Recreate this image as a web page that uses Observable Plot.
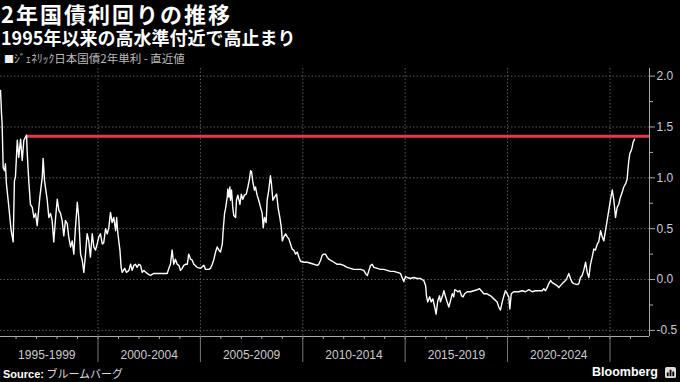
<!DOCTYPE html>
<html><head><meta charset="utf-8">
<script src="https://cdn.jsdelivr.net/npm/d3@7"></script>
<script src="https://cdn.jsdelivr.net/npm/@observablehq/plot@0.6"></script>
<style>
html,body{margin:0;padding:0;background:#000;}
#wrap{position:relative;width:680px;height:382px;overflow:hidden;background:#000;color:#fff;font-family:"Noto Sans CJK JP","Noto Sans",sans-serif;}
#title{position:absolute;left:1px;top:1px;font-size:22px;font-weight:700;line-height:24px;letter-spacing:2px;white-space:nowrap;}
#subtitle{position:absolute;left:1px;top:26px;font-size:18px;font-weight:700;line-height:22px;white-space:nowrap;}
#legend{position:absolute;left:4px;top:51px;font-size:11.5px;color:#bbb;line-height:14px;white-space:nowrap;}
#legend .sw{color:#eee;font-size:10px;}
#chart{position:absolute;left:0;top:60px;}
#source{position:absolute;left:3px;top:366px;font-size:11px;line-height:15px;color:#ddd;white-space:nowrap;}
#source b{font-family:"Liberation Sans",Arial,sans-serif;color:#fff;}
#brand{position:absolute;right:22px;top:365px;font-family:"Liberation Sans",Arial,sans-serif;font-weight:700;font-size:12.5px;line-height:15px;color:#fff;white-space:nowrap;}
#icon{position:absolute;left:665px;top:367px;}
</style></head>
<body>
<div id="wrap">
  <div id="title">2年国債利回りの推移</div>
  <div id="subtitle">1995年以来の高水準付近で高止まり</div>
  <div id="legend"><span class="sw">■</span>ｼﾞｪﾈﾘｯｸ日本国債2年単利 - 直近値</div>
  <div id="chart"></div>
  <div id="source"><b>Source:</b> ブルームバーグ</div>
  <div id="brand">Bloomberg</div>
  <svg id="icon" width="11" height="11" viewBox="0 0 12 12"><rect x="0" y="0" width="12" height="12" rx="2" fill="#ddd"/><rect x="2" y="6" width="2" height="4" fill="#000"/><rect x="5" y="3" width="2" height="7" fill="#000"/><rect x="8" y="5" width="2" height="5" fill="#000"/></svg>
</div>
<script>
// Decimal years and 2-year JGB yields (%)
const years = [
1995.24,1995.29,1995.32,1995.37,1995.44,1995.48,1995.53,1995.65,1995.76,1995.86,1995.92,1995.97,
1996.06,1996.13,1996.22,1996.30,1996.38,1996.51,1996.55,1996.62,1996.70,1996.79,1996.87,1996.95,
1997.03,1997.16,1997.28,1997.32,1997.39,1997.52,1997.60,1997.68,1997.76,1997.84,1997.93,
1998.01,1998.09,1998.17,1998.25,1998.33,1998.41,1998.50,1998.57,1998.66,1998.74,1998.82,1998.90,1998.99,
1999.06,1999.15,1999.23,1999.31,1999.39,1999.47,1999.55,1999.63,1999.72,1999.80,1999.88,1999.96,
2000.04,2000.12,2000.21,2000.28,2000.37,2000.45,2000.53,2000.61,2000.69,2000.77,2000.86,2000.91,2000.97,
2001.07,2001.13,2001.18,2001.30,2001.39,2001.51,2001.59,2001.67,2001.75,2001.83,2001.91,2001.99,
2002.08,2002.16,2002.24,2002.40,2002.56,2002.73,2002.89,
2003.05,2003.21,2003.38,2003.46,2003.54,2003.62,2003.70,2003.78,2003.87,2003.95,
2004.03,2004.11,2004.19,2004.27,2004.36,2004.43,2004.52,2004.60,2004.68,2004.84,
2005.01,2005.17,2005.25,2005.41,2005.49,2005.58,2005.66,2005.74,2005.82,2005.90,2005.98,
2006.07,2006.11,2006.18,2006.23,2006.31,2006.34,2006.39,2006.44,2006.47,2006.52,2006.58,2006.63,2006.72,2006.76,2006.83,2006.93,
2007.00,2007.07,2007.15,2007.24,2007.32,2007.40,2007.45,2007.50,2007.56,2007.64,2007.69,2007.77,2007.85,2007.94,
2008.02,2008.07,2008.13,2008.21,2008.26,2008.34,2008.42,2008.47,2008.54,2008.62,2008.72,2008.80,2008.88,2008.95,
2009.00,2009.07,2009.16,2009.24,2009.32,2009.40,2009.48,2009.56,2009.65,2009.73,2009.81,2009.89,
2010.05,2010.22,2010.38,2010.54,2010.70,2010.78,2010.87,2010.95,
2011.03,2011.11,2011.19,2011.27,2011.35,2011.52,2011.68,2011.84,
2012.00,2012.17,2012.33,2012.49,2012.66,2012.82,2012.98,
2013.06,2013.15,2013.23,2013.31,2013.39,2013.47,2013.64,2013.80,2013.96,
2014.12,2014.28,2014.45,2014.61,2014.77,2014.85,2014.93,
2015.02,2015.10,2015.26,2015.42,2015.59,2015.75,2015.91,
2016.00,2016.04,2016.10,2016.20,2016.27,2016.35,2016.43,2016.51,2016.59,2016.68,2016.72,2016.81,2016.89,2016.97,
2017.05,2017.13,2017.21,2017.30,2017.37,2017.42,2017.51,2017.57,2017.67,2017.75,2017.83,2017.90,
2018.03,2018.19,2018.35,2018.52,2018.63,2018.76,2018.84,
2019.00,2019.17,2019.33,2019.49,2019.57,2019.65,2019.74,2019.82,2019.90,2019.98,
2020.06,2020.11,2020.18,2020.30,2020.47,2020.55,2020.71,2020.87,
2021.04,2021.20,2021.36,2021.52,2021.69,2021.77,2021.85,2021.93,
2022.01,2022.10,2022.18,2022.26,2022.42,2022.50,2022.58,2022.67,2022.83,2022.91,2022.99,
2023.07,2023.16,2023.24,2023.40,2023.48,2023.56,2023.64,2023.72,2023.81,2023.89,2023.97,
2024.05,2024.13,2024.21,2024.29,2024.38,2024.45,2024.54,2024.62,2024.70,2024.78,2024.86,2024.94,
2025.03,2025.11,2025.19,2025.27,2025.35,2025.43,2025.51,2025.60,2025.67,2025.76,2025.84,2025.87,2025.92,2025.97,
2026.04,2026.08,2026.13,2026.20
];
const yields = [
1.86,1.63,1.53,1.10,1.07,1.14,0.94,0.71,0.48,0.37,0.97,1.01,
1.37,1.20,1.38,1.17,1.37,1.42,1.22,0.97,0.74,0.71,0.61,0.65,
0.53,0.81,1.01,1.19,0.97,0.78,0.61,0.65,0.58,0.37,0.61,
0.79,0.68,0.65,0.58,0.43,0.58,0.55,0.42,0.32,0.38,0.25,0.51,0.76,
0.61,0.25,0.19,0.07,0.25,0.45,0.38,0.22,0.45,0.32,0.29,0.35,
0.42,0.45,0.35,0.36,0.50,0.45,0.51,0.66,0.56,0.61,0.48,0.61,0.45,
0.29,0.12,0.07,0.11,0.07,0.09,0.15,0.09,0.14,0.15,0.12,0.15,
0.14,0.07,0.09,0.06,0.04,0.06,0.06,
0.06,0.06,0.06,0.11,0.15,0.29,0.15,0.20,0.15,0.14,
0.09,0.11,0.14,0.15,0.15,0.25,0.20,0.19,0.15,0.12,
0.11,0.14,0.10,0.10,0.11,0.15,0.20,0.27,0.32,0.29,0.27,
0.35,0.48,0.65,0.70,0.81,0.89,0.81,0.91,0.78,0.88,0.71,0.63,0.61,0.78,0.83,0.74,
0.84,0.79,0.83,0.84,0.91,0.99,1.07,1.06,0.96,0.88,0.91,0.83,0.78,0.71,
0.65,0.51,0.61,0.56,0.78,0.88,1.02,0.94,0.78,0.81,0.84,0.70,0.61,0.51,
0.38,0.42,0.45,0.42,0.40,0.35,0.30,0.29,0.25,0.27,0.22,0.18,
0.17,0.17,0.16,0.15,0.14,0.15,0.19,0.24,
0.25,0.25,0.22,0.20,0.19,0.17,0.15,0.15,
0.14,0.12,0.11,0.10,0.10,0.10,0.09,
0.06,0.04,0.09,0.14,0.15,0.12,0.11,0.10,0.10,
0.09,0.08,0.08,0.07,0.06,0.02,-0.02,
0.03,0.02,0.01,0.02,0.01,0.01,-0.01,
-0.06,-0.16,-0.22,-0.17,-0.22,-0.19,-0.26,-0.34,-0.21,-0.16,-0.22,-0.17,-0.11,-0.17,
-0.22,-0.27,-0.21,-0.14,-0.17,-0.10,-0.11,-0.12,-0.11,-0.16,-0.17,-0.14,
-0.12,-0.12,-0.11,-0.10,-0.09,-0.12,-0.14,
-0.14,-0.16,-0.19,-0.22,-0.27,-0.30,-0.22,-0.16,-0.11,-0.14,
-0.17,-0.29,-0.14,-0.12,-0.12,-0.12,-0.11,-0.12,
-0.10,-0.12,-0.11,-0.11,-0.11,-0.09,-0.11,-0.08,
-0.04,-0.01,-0.03,-0.04,-0.06,-0.08,-0.06,-0.04,-0.01,0.02,0.06,
0.01,-0.03,-0.04,-0.05,-0.04,0.02,0.04,0.09,0.17,0.07,0.02,
0.15,0.22,0.30,0.29,0.35,0.37,0.48,0.42,0.38,0.48,0.58,0.68,
0.79,0.88,0.78,0.61,0.71,0.74,0.81,0.86,0.91,0.94,0.99,1.07,1.17,1.24,
1.27,1.30,1.35,1.38
];
const prevHigh = 1.41;          // 1996 high level (red line)
const prevHighYear = 1996.51;
const periodLabels = ["1995-1999","2000-2004","2005-2009","2010-2014","2015-2019","2020-2024"];
const periodStarts = [1995,2000,2005,2010,2015,2020];
const boundaryYears = [2000,2005,2010,2015,2020,2025];
const yTicks = [-0.5,0,0.5,1,1.5,2];
const yMinor = [-0.25,0.25,0.75,1.25,1.75];
const xStart = 1995.24, xEnd = 2026.93;
const yDomain = [-0.56, 2.075];

function toDate(y){
  const yr = Math.floor(y);
  const s = Date.UTC(yr,0,1), e = Date.UTC(yr+1,0,1);
  return new Date(s + (y - yr) * (e - s));
}
const data = years.map((y,i)=>({date: toDate(y), value: yields[i]}));
const xDomain = [toDate(xStart), toDate(xEnd)];
const boundaries = boundaryYears.map(y=>toDate(y));
const yearTicks = d3.range(1996, 2027).map(y=>toDate(y));
const periods = periodLabels.map((l,i)=>({date: toDate(periodStarts[i]+2.5), label: l}));
const axisColor = "#aaa";
const gridStyle = {stroke:"#5a5a5a", strokeOpacity:1, strokeDasharray:"1.5,2", strokeWidth:1};

const chart = Plot.plot({
  width: 680, height: 306,
  marginLeft: 0, marginRight: 31, marginTop: 8, marginBottom: 30,
  style: {background:"transparent", color:"#ccc", fontFamily:"'Liberation Sans', Arial, sans-serif", fontSize:"12px", overflow:"visible"},
  x: {type:"utc", domain:xDomain, label:null},
  y: {domain:yDomain, label:null},
  marks: [
    Plot.gridY(yTicks, gridStyle),
    Plot.gridX(boundaries, gridStyle),
    Plot.ruleX([xDomain[1]], {stroke:axisColor}),
    Plot.ruleY([yDomain[0]], {stroke:axisColor}),
    Plot.axisY(yMinor, {anchor:"right", tickSize:3, tickFormat:()=>"", stroke:axisColor}),
    Plot.axisY(yTicks, {anchor:"right", tickSize:5, tickPadding:2, tickFormat:d=>d.toFixed(1), stroke:axisColor, fill:"#ccc", fontSize:12}),
    Plot.axisX(yearTicks, {anchor:"bottom", tickSize:3, tickFormat:()=>"", stroke:axisColor}),
    Plot.axisX(boundaries, {anchor:"bottom", tickSize:26, tickFormat:()=>"", stroke:"#777"}),
    Plot.text(periods, {x:"date", text:"label", frameAnchor:"bottom", dy:22, fill:"#ccc", fontSize:12}),
    Plot.ruleY([{y:prevHigh, x1:toDate(prevHighYear), x2:xDomain[1]}], {y:"y", x1:"x1", x2:"x2", stroke:"#e23b4b", strokeWidth:3}),
    Plot.line(data, {x:"date", y:"value", stroke:"#fff", strokeWidth:1.4})
  ]
});
document.getElementById("chart").appendChild(chart);
</script>
</body></html>
